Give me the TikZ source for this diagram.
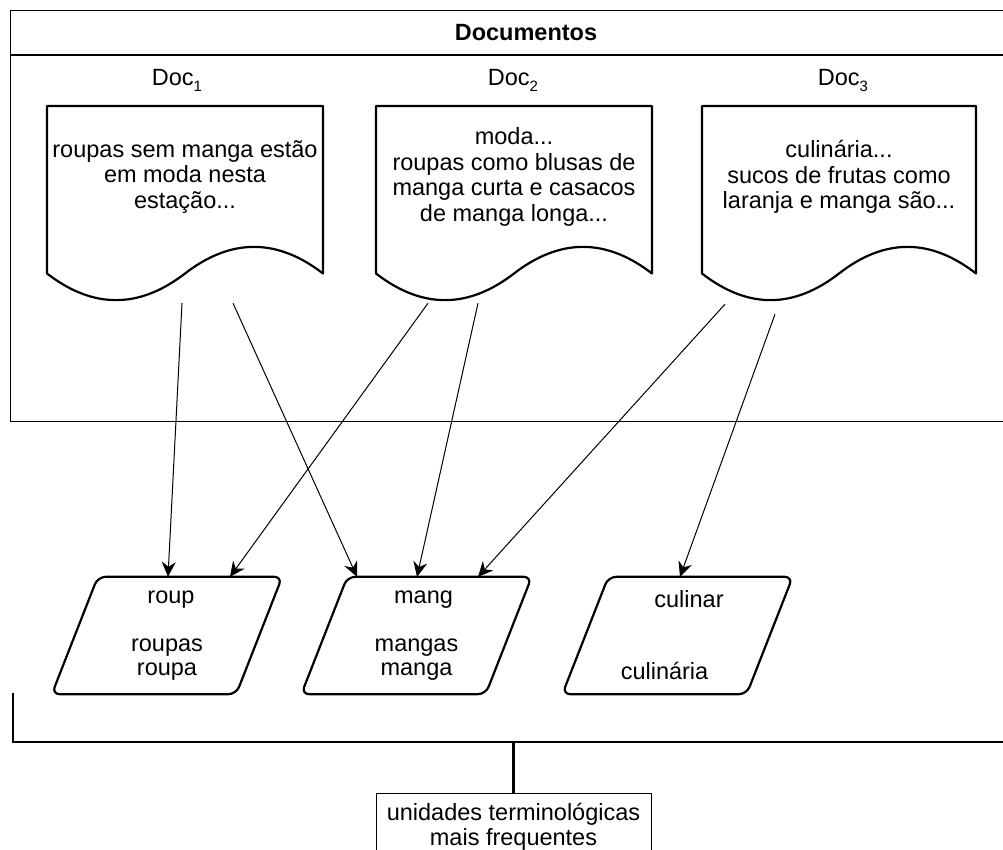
\documentclass[tikz,border=0pt]{standalone}
\usepackage{fontspec}
\setmainfont{Liberation Sans}
\usetikzlibrary{arrows.meta}

% document shape: named box, wavy bottom edge, text in the upper part
% #1 name, #2 left x, #3 width, #4 text
\newcommand\docshape[4]{%
  \node[docbox, minimum width=#3pt] (#1) at ({#2+#3/2},204.5) {};
  \draw[docline] (#2,106) -- ({#2+#3},106) -- ({#2+#3},273.5)
    .. controls ({#2+5*#3/6},238) and ({#2+2*#3/3},238) .. ({#2+#3/2},273.5)
    .. controls ({#2+#3/3},309) and ({#2+#3/6},309) .. (#2,273.5) -- cycle;
  \node[doctext] (#1text) at ({#2+#3/2},177) {#4};
}

\begin{document}
\begin{tikzpicture}[x=1pt,y=-1pt,
  every node/.style={font=\fontsize{23.5}{25.5}\selectfont, inner sep=0pt},
  frame/.style={draw=black, line width=1.2pt},
  docbox/.style={minimum height=197pt},
  docline/.style={draw=black, line width=2.2pt, line join=round},
  doctext/.style={align=center},
  termbox/.style={minimum width=230pt, minimum height=117pt, align=center,
    font=\fontsize{23.5}{24}\selectfont},
  termline/.style={draw=black, line width=2.2pt, rounded corners=8pt},
  link/.style={draw=black, line width=1pt,
    -{Stealth[length=15pt,width=14pt,inset=5pt]}},
  bracket/.style={draw=black, line width=2.2pt},
  resultbox/.style={draw=black, line width=1pt, minimum width=275pt,
    minimum height=66pt, anchor=north, align=center,
    font=\fontsize{23.5}{25}\selectfont}
]
\useasboundingbox (0,0) rectangle (1003,849);
\clip (0,0) rectangle (1003,849);
\fill[white] (0,0) rectangle (1003,849);

% container with title bar
\node[frame, anchor=north west, minimum width=1032pt, minimum height=411pt] (docs) at (10,10) {};
\node[font=\fontsize{23.5}{25.5}\selectfont\bfseries] (title) at (526,33) {Documentos};
\draw[frame] (docs.west |- 0,55) -- (docs.east |- 0,55);

% document labels
\node[anchor=base] (lab1) at (177,85) {Doc\raisebox{-6pt}{\fontsize{15}{15}\selectfont 1}};
\node[anchor=base] (lab2) at (513,85) {Doc\raisebox{-6pt}{\fontsize{15}{15}\selectfont 2}};
\node[anchor=base] (lab3) at (843,85) {Doc\raisebox{-6pt}{\fontsize{15}{15}\selectfont 3}};

% documents
\docshape{doc1}{47}{276}{roupas sem manga estão\\em moda nesta\\estação...}
\docshape{doc2}{376}{276}{moda...\\roupas como blusas de\\manga curta e casacos\\de manga longa...}
\docshape{doc3}{702}{274}{culinária...\\sucos de frutas como\\laranja e manga são...}

% stems and their variants
\node[termbox] (roup) at (167,635.5) {\hspace*{8pt}roup\\[24pt]roupas\\roupa};
\node[termbox] (mang) at (416.5,635.5) {\hspace*{14pt}mang\\[24pt]mangas\\manga};
\node[termbox] (culinar) at (677.5,635.5) {\hspace*{23pt}culinar\\[48pt]culinária\hspace*{26pt}};
\foreach \t in {roup,mang,culinar}{
  \draw[termline] ([xshift=46pt]\t.north west) -- (\t.north east)
    -- ([xshift=-46pt]\t.south east) -- (\t.south west) -- cycle;
}

% occurrences of each stem
\draw[link] ([xshift=-3pt]doc1.south) -- ([xshift=1pt]roup.north);
\draw[link] ([xshift=48pt]doc1.south) -- ([xshift=-59.5pt]mang.north);
\draw[link] ([xshift=-86pt]doc2.south) -- ([xshift=63pt]roup.north);
\draw[link] ([xshift=-36pt]doc2.south) -- ([xshift=0.5pt]mang.north);
\draw[link] ([xshift=-114pt,yshift=-1pt]doc3.south) -- ([xshift=61.5pt]mang.north);
\draw[link] ([xshift=-64pt,yshift=-11pt]doc3.south) -- ([xshift=2.5pt]culinar.north);

% grouping bracket and result
\node[resultbox] (freq) at (513.5,793) {unidades terminológicas\\mais frequentes};
\coordinate (brL) at (12.8,693);
\coordinate (brR) at (1012,742);
\draw[bracket] (brL) |- (brR);
\draw[bracket] (freq.north) -- (freq.north |- brR);
\end{tikzpicture}
\end{document}
